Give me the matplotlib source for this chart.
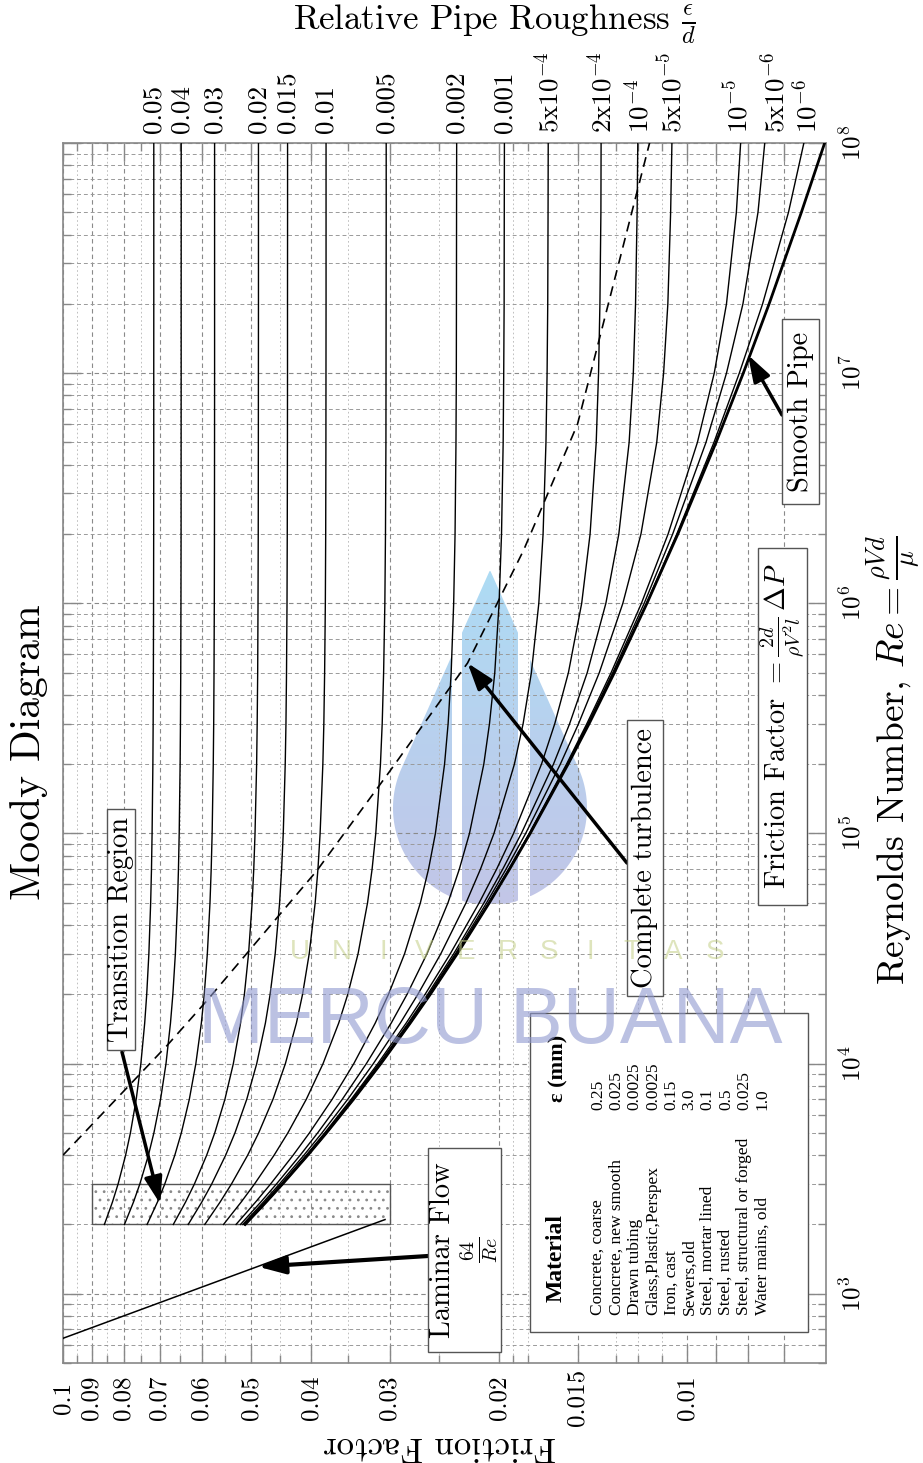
import numpy as np
import matplotlib
matplotlib.use('Agg')
import matplotlib.pyplot as plt
from matplotlib.patches import Rectangle, PathPatch
from matplotlib.path import Path
from matplotlib.colors import to_rgb
from matplotlib.ticker import LogLocator, NullFormatter

plt.rcParams['font.family'] = 'cmr10'
plt.rcParams['mathtext.fontset'] = 'cm'
plt.rcParams['axes.formatter.use_mathtext'] = True
plt.rcParams['hatch.linewidth'] = 0.8

# Reynolds numbers where the curves were read
re_pts = [2000, 2500, 3000, 4000, 5000, 7000, 1e4, 1.5e4, 2e4, 3e4, 5e4, 7e4,
          1e5, 2e5, 3e5, 5e5, 1e6, 2e6, 5e6, 1e7, 2e7, 5e7, 1e8]

# friction factor of each roughness curve, in units of 1e-5
f_0p05 = [8584, 8334, 8161, 7938, 7799, 7634, 7504, 7399, 7344, 7286, 7238, 7216,
          7200, 7179, 7172, 7166, 7161, 7158, 7156, 7156, 7155, 7155, 7155]
f_0p04 = [7972, 7712, 7532, 7298, 7152, 6978, 6840, 6728, 6669, 6608, 6556, 6533,
          6515, 6493, 6485, 6478, 6473, 6470, 6469, 6468, 6468, 6467, 6467]
f_0p03 = [7334, 7060, 6870, 6621, 6464, 6276, 6127, 6004, 5940, 5873, 5816, 5790,
          5770, 5746, 5737, 5730, 5724, 5721, 5719, 5718, 5718, 5718, 5718]
f_0p02 = [6658, 6365, 6159, 5887, 5714, 5504, 5336, 5196, 5123, 5045, 4979, 4949,
          4926, 4897, 4887, 4878, 4872, 4868, 4866, 4865, 4864, 4864, 4864]
f_0p015 = [6302, 5995, 5778, 5489, 5304, 5078, 4895, 4741, 4659, 4573, 4499, 4466,
           4439, 4407, 4395, 4386, 4378, 4374, 4371, 4370, 4370, 4369, 4369]
f_0p01 = [5928, 5604, 5372, 5061, 4860, 4610, 4404, 4229, 4134, 4034, 3946, 3906,
          3875, 3836, 3822, 3811, 3801, 3796, 3793, 3792, 3791, 3791, 3791]
f_0p005 = [5533, 5185, 4934, 4591, 4364, 4077, 3833, 3618, 3499, 3369, 3253, 3199,
           3156, 3102, 3082, 3066, 3052, 3045, 3040, 3039, 3038, 3037, 3037]
f_0p002 = [5283, 4917, 4650, 4280, 4030, 3706, 3422, 3162, 3011, 2838, 2677, 2598,
           2533, 2449, 2417, 2390, 2368, 2356, 2348, 2345, 2344, 2343, 2342]
f_0p001 = [5197, 4824, 4551, 4170, 3910, 3570, 3267, 2981, 2812, 2613, 2418, 2319,
           2234, 2119, 2075, 2035, 2003, 1985, 1973, 1969, 1966, 1965, 1964]
f_5em4 = [5153, 4777, 4500, 4113, 3848, 3499, 3184, 2883, 2702, 2483, 2262, 2145,
          2041, 1893, 1833, 1778, 1730, 1703, 1685, 1678, 1674, 1672, 1671]
f_2em4 = [5127, 4748, 4470, 4078, 3810, 3455, 3132, 2821, 2631, 2398, 2155, 2021,
          1899, 1713, 1631, 1551, 1477, 1432, 1400, 1388, 1381, 1376, 1375]
f_1em4 = [5118, 4739, 4459, 4067, 3797, 3440, 3115, 2800, 2606, 2368, 2117, 1976,
          1845, 1639, 1544, 1447, 1351, 1288, 1240, 1221, 1211, 1204, 1201]
f_5em5 = [5114, 4734, 4454, 4061, 3791, 3433, 3106, 2789, 2594, 2353, 2097, 1952,
          1816, 1598, 1494, 1384, 1269, 1187, 1120, 1092, 1075, 1064, 1059]
f_1em5 = [5110, 4730, 4450, 4056, 3786, 3427, 3099, 2781, 2584, 2340, 2080, 1932,
          1792, 1562, 1449, 1325, 1185, 1074, 964, 906, 866, 835, 822]
f_5em6 = [5110, 4730, 4450, 4056, 3785, 3426, 3098, 2780, 2583, 2339, 2078, 1930,
          1789, 1558, 1443, 1317, 1173, 1056, 934, 866, 815, 771, 752]
f_1em6 = [5109, 4729, 4449, 4055, 3785, 3425, 3097, 2779, 2582, 2338, 2076, 1928,
          1787, 1554, 1439, 1311, 1163, 1040, 907, 826, 758, 689, 651]
f_smooth = [5109, 4729, 4449, 4055, 3785, 3425, 3097, 2779, 2581, 2337, 2076, 1927,
            1786, 1553, 1437, 1309, 1161, 1036, 900, 814, 740, 657, 603]

rough_labels = ['0.05', '0.04', '0.03', '0.02', '0.015', '0.01', '0.005', '0.002',
                '0.001', '5x10$^{-4}$', '2x10$^{-4}$', '10$^{-4}$', '5x10$^{-5}$',
                '10$^{-5}$', '5x10$^{-6}$', '10$^{-6}$']

# laminar line f = 64/Re
lam_re = [600, 2100]
lam_f = [0.1067, 0.0305]

# complete turbulence boundary (dashed)
turb_f = [0.1, 0.0681, 0.0592, 0.0392, 0.0299, 0.0225, 0.0183, 0.0150, 0.0115]
turb_re = [4.0e3, 1.2e4, 1.84e4, 6.9e4, 1.88e5, 5.5e5, 1.7e6, 6.0e6, 1.0e8]

# axis ticks
ff_major = [0.1, 0.09, 0.08, 0.07, 0.06, 0.05, 0.04, 0.03, 0.02, 0.015, 0.01, 0.009, 0.008, 0.007]
ff_labels = ['0.1', '0.09', '0.08', '0.07', '0.06', '0.05', '0.04', '0.03', '0.02', '0.015', '0.01', '', '', '']
ff_minor = [0.095, 0.085, 0.075, 0.065, 0.055, 0.045, 0.035, 0.025, 0.019, 0.018, 0.013, 0.012, 0.011]
re_major = [1e3, 1e4, 1e5, 1e6, 1e7, 1e8]
re_labels = ['$10^{3}$', '$10^{4}$', '$10^{5}$', '$10^{6}$', '$10^{7}$', '$10^{8}$']

materials = ['Concrete, coarse', 'Concrete, new smooth', 'Drawn tubing', 'Glass,Plastic,Perspex',
             'Iron, cast', 'Sewers,old', 'Steel, mortar lined', 'Steel, rusted',
             'Steel, structural or forged', 'Water mains, old']
eps_mm = ['0.25', '0.025', '0.0025', '0.0025', '0.15', '3.0', '0.1', '0.5', '0.025', '1.0']

W, H = 923, 1463
fig = plt.figure(figsize=(W / 100, H / 100), dpi=100)


def fx(x, y):
    # image pixel (from top-left) -> figure fraction
    return (x / W, 1 - y / H)


# background layer (watermark drop), main axes, overlay layer
bg = fig.add_axes([0, 0, 1, 1], zorder=0)
ax = fig.add_axes([63 / W, 100 / H, 763 / W, 1220 / H], zorder=1)
ov = fig.add_axes([0, 0, 1, 1], zorder=2)
for a in (bg, ov):
    a.set_xlim(0, W)
    a.set_ylim(H, 0)
    a.axis('off')
ax.set_facecolor('none')

# watermark drop, three vertical strips
cx, tip, R = 490, 570, 97
cy = 905 - R
d = cy - tip
yt = cy - R * R / d
ht = R * np.sqrt(1 - (R / d) ** 2)
ys = np.linspace(tip, 905, 300)
half = np.where(ys < yt, (ys - tip) / (yt - tip) * ht,
                np.sqrt(np.clip(R ** 2 - (ys - cy) ** 2, 0, None)))
polys = []
for b0, b1 in [(380, 452), (462, 518), (530, 600)]:
    xl = np.maximum(cx - half, b0)
    xr = np.minimum(cx + half, b1)
    ok = xl < xr
    pts = np.vstack([np.column_stack([xl[ok], ys[ok]]),
                     np.column_stack([xr[ok], ys[ok]])[::-1]])
    polys.append(Path(np.vstack([pts, pts[:1]]), closed=True))
clip = PathPatch(Path.make_compound_path(*polys), transform=bg.transData)
tcol = np.array(to_rgb('#99d3f2'))
bcol = np.array(to_rgb('#b4b8e2'))
t = np.linspace(0, 1, 200)[:, None]
grad = (tcol * (1 - t) + bcol * t)[:, None, :]
im = bg.imshow(grad, extent=(380, 600, 905, 570), aspect='auto', alpha=0.8, origin='upper')
im.set_clip_path(clip)
bg.set_xlim(0, W)
bg.set_ylim(H, 0)

# main chart
ax.set_xscale('log')
ax.set_yscale('log')
ax.set_xlim(0.1, 0.006)
ax.set_ylim(500, 1e8)

curves = [f_0p05, f_0p04, f_0p03, f_0p02, f_0p015, f_0p01, f_0p005, f_0p002, f_0p001,
          f_5em4, f_2em4, f_1em4, f_5em5, f_1em5, f_5em6, f_1em6]
nudge = {'10$^{-5}$': -3, '5x10$^{-6}$': 9, '10$^{-6}$': 2}
for fv, lab in zip(curves, rough_labels):
    fv = np.array(fv) * 1e-5
    ax.plot(fv, re_pts, color='black', lw=1.0, zorder=3)
    ax.annotate(lab, xy=(fv[-1], 1), xycoords=('data', 'axes fraction'),
                xytext=(nudge.get(lab, 0), 10), textcoords='offset pixels', rotation=90,
                ha='center', va='bottom', fontsize=19.5, annotation_clip=False)
ax.plot(np.array(f_smooth) * 1e-5, re_pts, color='black', lw=2.0, zorder=3)
ax.plot(lam_f, lam_re, color='black', lw=1.1, zorder=3)
ax.plot(turb_f, turb_re, color='black', lw=1.2, ls=(0, (6, 4)), zorder=3)

# transition region: stipple plus border
ax.add_patch(Rectangle((0.03, 2000), 0.06, 1000, fill=False, hatch='..',
                       ec='#8a8a8a', lw=0, zorder=2))
ax.add_patch(Rectangle((0.03, 2000), 0.06, 1000, fill=False,
                       ec='#555555', lw=1.0, zorder=2))

ax.set_xticks(ff_major, ff_labels, rotation=90, ha='center', va='center', fontsize=18)
ax.set_xticks(ff_minor, minor=True)
ax.xaxis.set_minor_formatter(NullFormatter())
ax.set_yticks(re_major, re_labels, rotation=90, ha='center', va='center', fontsize=18)
ax.yaxis.set_minor_locator(LogLocator(base=10, subs=np.arange(2, 10)))
ax.yaxis.set_minor_formatter(NullFormatter())
ax.tick_params(which='both', direction='in', top=True, bottom=True, left=True, right=True,
               color='#888888', width=1.0)
ax.tick_params(which='major', length=13)
ax.tick_params(which='minor', length=6)
ax.tick_params(axis='x', pad=25)
ax.tick_params(axis='y', labelleft=False, labelright=True, pad=19)
for s in ax.spines.values():
    s.set_color('#888888')
    s.set_linewidth(1.2)

ax.xaxis.grid(True, which='major', color='#8a8a8a', lw=0.8, ls=(0, (4, 3)))
ax.yaxis.grid(True, which='major', color='#8a8a8a', lw=0.8, ls=(0, (4, 3)))
ax.yaxis.grid(True, which='minor', color='#9a9a9a', lw=0.7, ls=(0, (4, 3)))
ax.xaxis.grid(True, which='minor', color='#b5b5b5', lw=0.6, ls=(0, (2, 3)))

# titles and axis labels
fig.text(*fx(29, 752), 'Moody Diagram', rotation=90, fontsize=30, ha='center', va='center')
fig.text(*fx(494, 24), r'Relative Pipe Roughness $\frac{\epsilon}{d}$', fontsize=25,
         ha='center', va='center')
fig.text(*fx(440, 1446), 'Friction Factor', rotation=180, fontsize=25, ha='center', va='center')
fig.text(*fx(893, 760), r'Reynolds Number, $Re = \frac{\rho V d}{\mu}$', rotation=90,
         fontsize=27, ha='center', va='center')


def box(x0, y0, x1, y1, txt, size=20.5):
    ov.add_patch(Rectangle((x0, y0), x1 - x0, y1 - y0, fc='white', ec='#555555', lw=1.0))
    ov.text((x0 + x1) / 2, (y0 + y1) / 2, txt, rotation=90, ha='center', va='center',
            fontsize=size, multialignment='center', linespacing=1.1)


box(107, 809, 135, 1050, 'Transition Region')
box(428, 1148, 501, 1352, 'Laminar Flow\n' + r'$\frac{64}{Re}$')
box(627, 720, 663, 996, 'Complete turbulence')
box(758, 548, 807, 905, r'Friction Factor $= \frac{2d}{\rho V^2 l}\,\Delta P$')
box(782, 319, 819, 504, 'Smooth Pipe')


def arrow(tip_xy, start_px, lw=2.5):
    ax.annotate('', xy=tip_xy, xycoords='data', xytext=fx(*start_px),
                textcoords='figure fraction',
                arrowprops=dict(arrowstyle='-|>,head_length=0.9,head_width=0.3',
                                lw=lw, color='black', shrinkA=0, shrinkB=0,
                                mutation_scale=18), zorder=6)


arrow((0.0699, 2460), (122, 1052))
arrow((0.0487, 1310), (428, 1256), lw=3.0)
arrow((0.0225, 5.5e5), (627, 863))
arrow((0.0080, 1.2e7), (782, 415))

# material table
ov.add_patch(Rectangle((530, 1013), 278, 319, fc='white', ec='#555555', lw=1.0))
ov.text(556, 1302, 'Material', rotation=90, ha='center', va='bottom', fontsize=17,
        weight='bold', family='Liberation Serif')
ov.text(558, 1102, 'ε (mm)', rotation=90, ha='center', va='bottom', fontsize=16,
        weight='bold', family='Liberation Serif')
for i, (m, e) in enumerate(zip(materials, eps_mm)):
    xx = 598 + i * 18.3
    ov.text(xx, 1315, m, rotation=90, ha='center', va='bottom', fontsize=12.5,
            family='Liberation Serif')
    ov.text(xx, 1110, e, rotation=90, ha='center', va='bottom', fontsize=12.5,
            family='Liberation Serif')

# watermark text
ov.text(490, 1022, 'MERCU BUANA', ha='center', va='center', fontsize=57,
        family='Liberation Sans', color='#8f98cf', alpha=0.6)
for i, ch in enumerate('UNIVERSITAS'):
    ov.text(300 + i * 41.5, 952, ch, ha='center', va='center', fontsize=20,
            family='Liberation Sans', color='#c3cf86', alpha=0.55)

fig.savefig('out.png', dpi=100, facecolor='white')
